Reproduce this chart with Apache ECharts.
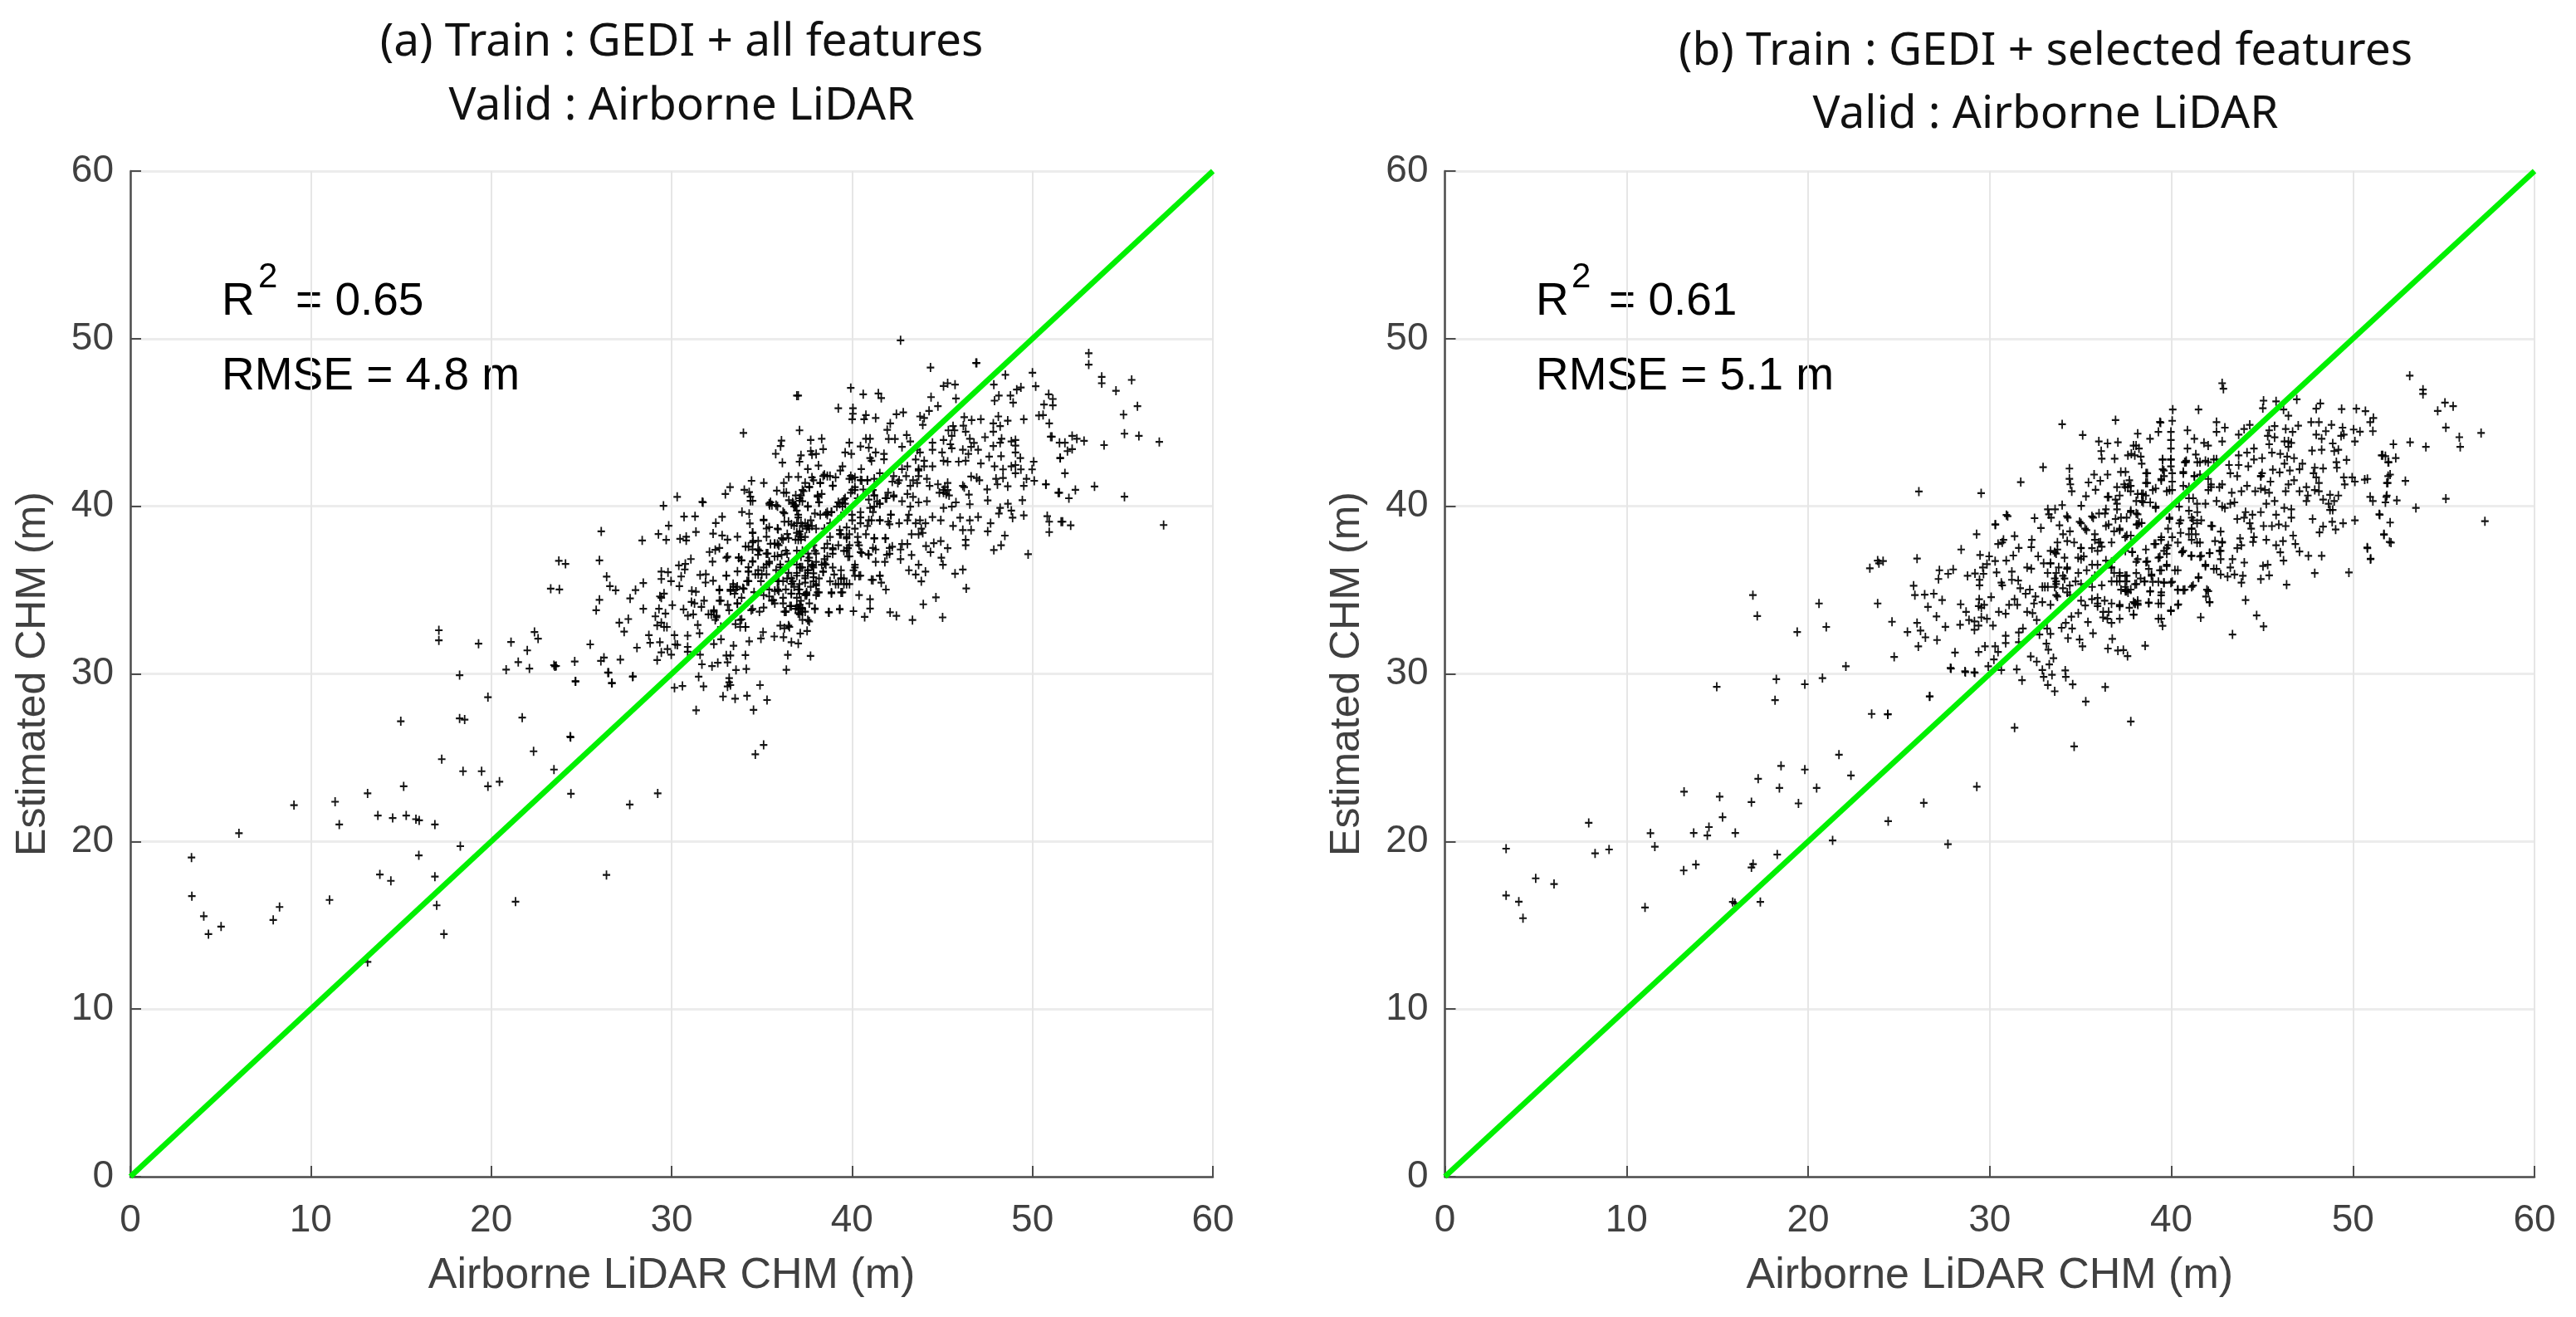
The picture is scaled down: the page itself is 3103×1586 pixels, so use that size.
<!DOCTYPE html>
<html><head><meta charset="utf-8">
<style>html,body{margin:0;background:#fff}#c{width:3103px;height:1586px}</style>
<script src="https://cdn.jsdelivr.net/npm/echarts@6/dist/echarts.min.js"></script>
</head><body><div id="c"></div>
<script>
const ticks=[0,10,20,30,40,50,60];
const oneToOne=[[0,0],[60,60]];
const pointsA=[
[3.39,19.04],[3.41,16.74],[4.07,15.54],[4.33,14.47],[5.03,14.92],[6.02,20.49],[7.92,15.32],[8.27,16.09],[9.07,22.17],[11.04,16.51],[11.35,22.37],[11.58,21.01],[13.15,22.87],[13.15,12.81],[13.72,21.55],[14.54,21.4],[15.29,21.55],[15.83,21.33],[16.01,21.26],[16.88,21.01],[13.83,18.03],[14.44,17.65],[14.99,27.17],[15.15,23.29],[15.99,19.17],[16.88,17.9],[16.98,16.19],[17.38,14.47],[17.26,24.91],[18.25,29.92],[18.25,27.34],[18.53,27.27],[18.44,24.19],[18.29,19.72],[19.47,24.19],[19.82,28.61],[19.82,23.29],[20.46,23.57],[20.83,30.25],[21.72,27.39],[21.35,16.41],[22.12,30.32],[22.35,25.38],[23.48,24.29],[24.4,26.22],[24.42,22.85],[26.39,18],[27.68,22.2],[29.23,22.87],[24.68,29.55],[23.53,30.45],[26.51,30.07],[26.68,29.45],[27.84,29.83],[17.1,32.6],[17.1,32],[19.3,31.8],[21.1,31.9],[22.4,32.5],[22.6,32.1],[22,31.4],[21.5,30.7],
[29.55,40.03],[30.69,39.38],[31.3,39.4],[31.7,40.26],[33.9,39.66],[34.3,39.55],[32.8,39.37],[32.45,39],[29.84,38.84],[29.27,38.34],[29.7,38],[28.37,37.96],[26.1,38.5],[23.75,36.74],[24.12,36.56],[26,36.77],[26.4,35.8],[26.58,35.23],[26.9,34.99],[23.3,35.08],[23.78,35.04],[28.43,35.42],[28,35],[27.7,34.5],[26,34.42],[25.82,33.8],[28.43,33.88],[27.1,33.05],[27.6,33.27],[27.37,32.52],[25.49,31.76],[28.08,31.56],[24.63,30.74],[23.48,30.52],[23.6,30.47],[26.08,30.77],[26.25,30.97],[27.16,30.85],[26.47,30.08],[24.67,29.56],[26.7,29.45],[27.86,29.85],[24.38,26.26],[35.1,25.76],[34.64,25.2],[31.36,27.83],[34.54,27.85],[32.85,28.65],[33.52,28.52],[34.18,28.69],[35.29,28.44],[34.9,29.33],[33.19,29.5],[33.1,29.25],[33.26,29.33],[33.19,29.75],[31.77,29.25],[31.5,29.83],[30.16,29.17],[30.6,29.28],[33.57,30.23],[34.14,30.29],[36.36,30.24],[31.68,30.57],[32.24,30.46],[32.56,30.66],[33.1,30.69],[33.03,31.1],[33.26,31.1],[34.09,31.12],[36.44,31.13],[37.7,31.07],[31.58,31.15],[30.89,31.32],[30.89,31.61],[29.98,31.15],[29.77,31.48],[29.43,31.28],[29.2,30.82],[28.74,32.31],[28.81,31.85],[29.35,31.89],[30.32,31.73],[30.2,31.76],[30.16,32.31],[30.89,32.28],[31.55,32.42],[31.45,32.92],[32.34,31.78],[32.74,32.06],[33.43,31.68],[34.3,31.94],[34.95,32.11],[35.07,32.49],[35.69,32.23],[36.2,32.19],[36.64,31.89],[37.02,31.81],[37.51,32.56],[37.13,32.41],[36.53,32.8],[36.25,32.72],[34.1,32.8],[33.8,32.8],[33.54,32.97],[33.88,33.25],[32.73,32.8],[32.42,33.22],[32.5,33.46],[32.2,33.55],[32.34,33.8],[32.04,33.55],[31.2,33.55],[30.9,33.47],[30.66,33.85],[29.3,33.88],[29.66,33.6],[29.1,33.43],[30.04,34.1],[29.43,33.05],[29.2,32.89],[29.58,32.8],[29.74,32.8],[29.35,34.62],[29.58,34.79],[29.43,34.54],[30.43,35.23],[29.97,35.53],[29.43,35.66],[29.43,36.1],[29.8,36.06],[30.53,35.81],[30.4,36.47],[30.76,36.56],[30.73,36.23],[31.07,36.85],[30.81,38.18],[30.47,38.06],[30.81,37.96],[31.35,38.47],[31.12,34.95],[31.35,34.9],[31.1,34.29],[31.58,35.9],[31.9,35.94],[32.3,35.56],[31.88,35.45],[32.1,37.27],[32.42,37.4],[32.65,37.51],[32.27,36.69],[33.1,36.99],[32.3,38.37],[32.8,38.26],[33.1,38.01],[33.65,38.18],[33.03,35.86],[32.65,34.99],[31.8,34.37],[31.27,34.21],[31.65,33.99],[33.42,35.2],[33.57,35.04],[33.26,34.95],[34,35.07],[33.65,34.21],[33.19,33.8],[32.73,34.37],[34.49,38.42],[34.52,37.93],[35.1,39.2],[34.34,38.97],[35.26,38.67],[35.87,38.67],[34.8,37.93],[34.87,37.35],[33.72,36.94],[34.49,36.69],[33.88,36.77],[35.33,37.18],[35.41,40.16],[35.87,40],[36.18,39.66],[36.87,40],[37.02,39.33],[37.56,40],[34.49,40.32],[36.5,40.36],[37.1,40.33],[36.25,39.08],[36.64,38.92],[37.1,38.5],[37.56,38.84],[36.87,38.01],[36.18,38.01],[35.72,37.76],[36.33,37.35],[35.41,36.69],[35.87,37.02],[36.48,36.69],[36.94,36.52],[37.56,36.19],[34.26,36.11],[33.65,36.11],[34.8,35.94],[35.26,35.94],[34.26,35.53],[35.87,35.53],[36.64,35.7],[36.33,35.04],[35.72,34.95],[35.1,34.7],[35.56,34.37],[36.18,34.21],[36.64,34.79],[37.1,34.13],[37.48,34.7],[37.02,33.88],[36.33,33.71],[35.1,33.96],[34.41,33.8],[37.25,33.22],[37.63,33.13],
[33.88,34.54],[34.18,35.53],[34.57,34.87],[34.95,35.53],[35.41,35.04],[35.87,35.04],[36.18,35.53],[36.64,35.37],[37.02,35.04],[37.4,35.7],[37.71,35.2],[37.17,36.36],[36.94,35.86],[36.48,36.03],[36.02,36.36],[35.26,36.52],[34.8,36.19],[34.26,36.36],[36.94,34.54],[36.56,34.04],[37.4,33.71],[37.1,33.55],[36.87,33.88],[37.63,34.21],[36.25,33.71],[35.41,34.62],[35.72,34.21],[36.18,34.54],[37.56,37.18],[37.79,36.52],[36.94,37.35],[36.79,38.84],[37.17,38.01],[36.41,38.34],[35.87,37.76],[35.26,38.18],[34.49,37.43],[34.1,37.6],
[44.35,48.28],[46.91,48.55],[48.5,47.84],[50,47.97],[50.18,47.16],[50.9,46.68],[51.13,46.4],[50.64,46.07],[51.13,46.02],[50.36,45.41],[50.59,45.44],[50.93,44.94],[51.08,44.15],[51.5,43.79],[51.54,42.88],[50.74,41.31],[51.43,40.81],[50.82,39.41],[50.93,39.08],[51.59,39.08],[50.93,38.46],[49.52,39.46],[48.83,39.74],[48.9,39.32],[48.21,39.9],[48.14,39.57],[47.68,38.99],[47.52,38.5],[48.47,38.25],[48.26,37.67],[47.86,37.39],[49.76,37.14],[49.44,40.36],[48.64,40.15],[47.52,40.35],[47.49,41.01],[46.53,40.12],[46.48,40.7],[48.63,41.19],[49.52,41.22],[50.1,41.52],[49.67,41.64],[49.98,42.2],[50.07,42.66],[49.36,42.2],[49.06,41.97],[48.37,41.69],[47.98,41.64],[48.06,41.31],[48.37,42.2],[47.9,42.38],[49.06,42.46],[48.83,42.38],[49.33,42.88],[48.26,42.99],[47.6,42.96],[47.14,42.55],[49.06,43.95],[48.83,43.87],[49.06,43.62],[49.06,43.21],[48.29,44.03],[48.21,43.79],[47.83,43.59],[47.37,44.12],[46.99,43.37],[47.83,44.45],[48.21,44.78],[47.83,44.94],[48.11,45.36],[48.63,45.11],[49.52,45.19],[47.14,45.19],[46.63,45.14],[46.22,45.32],[46.17,44.81],[45.6,44.78],[45.34,44.53],[45.68,44.53],[45.53,44.2],[46.3,44.45],[46.53,44.03],[46.76,43.78],[46.6,43.54],[45.45,43.7],[45.53,43.46],[45.76,46.43],[45.07,47.17],[45.3,47.34],[45.71,47.26],[44.76,45.97],[44.38,46.51],[44.27,45.69],[43.77,45.36],[44,45.27],[43.92,44.86],[47.86,47.26],[48.14,46.6],[47.9,46.3],[48.78,46.6],[48.93,46.18],[49.13,46.96],[49.36,47.09],[39.93,47.06],[40.62,46.68],[41.46,46.73],[41.62,46.46],[39.24,45.85],[40.05,45.85],[40.05,45.52],[40.01,45.19],[40.77,45.44],[40.67,45.19],[41.31,45.27],[42.46,45.49],[42.84,45.6],[42.12,44.94],[41.95,44.56],[43.03,44.25],[42.03,44.02],[42.38,44.02],[37.09,44.53],[37.02,46.6],[37.71,43.95],[38.32,44.03],[39.85,43.79],[40.47,43.57],[40.93,43.5],[40.77,44.03],[41,44.03],[38.4,43.41],[37.71,43.29],[38.01,43.12],[37.78,43.09],[37.17,43.04],[37.09,42.66],[37.55,42.22],[38.14,42.43],[39.62,43.21],[39.96,43.12],[39.35,42.13],[39.47,42.38],[40.51,42.22],[41,42.88],[41.31,43.21],[41.08,42.71],[41.77,43.12],[41.77,42.8],[42.77,43.54],[43.23,43.87],[43.61,43.37],[43.77,43.21],[44.46,43.79],[44.46,43.37],[43.53,42.79],[44,42.71],[43.69,42.22],[44,42.38],[44.46,42.38],[43.07,42.38],[42.77,42.22],[45.07,43.95],[44.99,43.21],[45.07,42.71],[45.3,42.66],[45.91,42.66],[46.3,42.71],[46.45,43.12],[46.14,43.37],[46.6,41.77],[46.91,41.69],[47.06,41.55],[46.14,41.22],[46.22,41.14],[44.15,41.64],[44.3,41.22],[44.76,41.31],[45.3,41.39],[43.61,41.39],[43.23,41.22],[42.54,41.39],[42.23,41.47],[44.84,40.81],[45.07,40.97],[45.22,40.73],[45.76,40.23],[45.53,39.98],[45.07,39.9],[44.15,40.3],[43.07,40.73],[43.38,40.56],[43.69,40.23],[42.31,40.65],[41.92,40.48],[41.23,40.65],[41,39.9],[41.54,40.15],[40.31,40.48],[39.93,40.81],[40.01,41.64],[40.54,41.55],[40.85,41.55],[38.78,41.8],[38.47,41.88],[38.24,41.39],[37.78,41.72],[39.09,41.72],[38.93,41.22],[38.32,40.73],[37.25,40.97],[37.63,41.14],[38.17,40.23],[37.55,39.98],[37.09,40.48],[37.94,39.57],[39.32,40.15],[39.62,40.48],[38.55,39.57],[38.86,39.65],[44.46,39.36],[44.92,39.16],[45.6,38.83],[46.14,38.58],[46.6,38.58],[46.53,39.16],[46.99,39.36],[45.99,39.32],[43.92,38.41],[43.69,38.33],[43.3,38.33],[44.07,38.99],[43.77,39.16],[43.15,39.49],[42.15,39.49],[42,39.08],[41.08,39.16],[41.54,39.16],[40.47,38.99],[40.85,38.83],[39.7,38.74],[38.78,38.17],[39.32,38.58],[37.55,38.83],[38.01,38.66],[37.09,38.33],[39.7,38.08],[41.23,38.08],[41.85,38.08],[40.39,37.67],[40.54,37.21],[40.9,37.14],[41.31,37.42],[42.23,37.59],[42.77,37.75],[43.07,37.75],[42.69,37.42],[44.1,37.62],[44.53,37.8],[44.92,37.92],[45.3,37.5],[44.35,37.26],[44.95,36.93],[45.04,36.51],[46.3,38],[46.3,37.67],[43.3,37.09],[42.69,36.84],[42.08,37.17],[41.82,36.68],[41.31,36.68],[39.7,37.34],[39.78,37],[38.93,37.5],[38.47,37.5],[38.63,37],[37.94,37.34],[38.01,36.68],[37.25,37.34],[37.86,36.35],[38.47,36.6],[38.4,36.1],[37.55,36.18],[40.08,36.18],[40.16,36.51],[39.39,36.18],[39.01,35.93],[40.39,35.85],[39.55,35.69],[38.78,35.52],[41.16,35.6],[41.54,35.85],[41.62,35.44],[41.88,35.03],[43.15,36.18],[43.53,35.93],[43.69,36.51],[44.07,36.1],[43.84,35.52],[45.71,35.98],[46.14,36.22],[46.33,35.1],[44.65,34.56],[43.95,34.15],[45.02,33.37],[43.35,33.21],[42.46,33.46],[42.11,33.67],[41,34.45],[41,33.9],[40.7,33.4],[40.08,33.74],[39.32,33.84],[38.73,33.67],[37.94,33.9],[37.55,33.21],[40.39,34.7],[39.39,34.86],[38.86,34.81],[38.09,34.86],[37.4,34.7],[37.09,35.03],[37.17,33.95],[37.86,35.52],[38.01,35.27],
[37.17,38.99],[37.48,38.66],[37.78,38.83],[37.02,38],[37.4,38.17],[37.86,37.67],[37.17,37],[37.55,36.76],[37.09,36.35],[37.4,35.85],[37.86,36],[38.17,35.69],[37.09,35.36],[37.48,34.86],[38.01,34.7],[37.17,34.36],[37.02,33.62],[37.25,33.87],[38.47,38.66],[38.78,38.99],[39.39,38.33],[39.85,38.33],[40.16,38.66],[40.77,38.33],[39.24,37.67],[39.78,37.5],[38.93,37.17],[38.32,36.51],[38.93,36.35],[39.39,35.69],[39.7,35.36],[39.24,35.36],[40.16,35.85],[39.39,39.41],[40,39.49],[40.47,39.65],[41.23,39.98],[41.39,40.3],[41.16,40.97],[42,40.81],[42.77,40.3],[43.23,39.98],[43.07,39.16],[42.61,38.99],[43.84,38.66],[43.53,38.99],[39.62,40.15],[39.16,39.98],[39.47,40.23],[38.63,39.65],[38.24,39.49],[37.71,39.16],[37.4,38.99],[38.09,40.65],[37.25,40.3],[37.02,39.49],[37.4,41.39],[37.86,41.55],[38.4,41.8],[39.85,41.64],[40.16,41.14],[40.16,40.97],[40.62,41],[41.23,41.64],[41.54,41.97],[42.31,41.8],[42.61,41.55],[43,41.8],[43.38,41.55],[43.69,42.13],[43.69,41.8],[45.07,40.81],[45.38,40.65],[45.15,41.14],[45.3,40.97],
[42.69,49.9],[46.87,48.55],[53.12,49.13],[53.12,48.45],[53.84,47.72],[53.84,47.34],[55.5,47.54],[54.63,46.89],[55.82,45.97],[55.05,45.47],[55.1,44.33],[55.9,44.2],[57.03,43.84],[53.97,43.65],[52.86,43.9],[52.46,44.03],[52.2,44.2],[51.8,43.79],[51.94,43.29],[52.2,43.41],[51.54,42.88],[51.01,44.15],[51.8,41.97],[53.44,41.18],[52.38,40.98],[51.49,40.81],[52.02,40.48],[55.1,40.57],[57.27,38.88],[50.75,41.31],[51.67,39.08],[52.12,38.86],
[30.31,40.56],[31.74,40.23],[33.98,44.37],[36.94,46.6],[36.09,43.92],[36.04,43.59],[35.77,43.13],[36.14,42.6],[34.43,41.52],[35.11,41.39],[34.03,40.98],[32.98,40.73],[33.24,41.14],[34.37,40.57],[34.3,40.84],[36.49,41.75],[37.02,41.75],[36.22,41.39],[35.83,40.93],[36.36,40.81],[35.56,40.07],[34.37,40.32],[35.43,40.07],[36.75,40.15],[36.22,40.81],[36.88,40.65],
[36.86,40.07],[36.94,39.74],[36.71,40.24],[35.79,40.07],[35.48,40.24],[36.25,39.58],[36.48,39.08],[36.94,39],[37.25,38.83],[37.63,38.67],[36.94,38.42],[37.17,38.17],[36.48,38.09],[36.1,38.09],[35.71,37.76],[35.94,37.67],[35.48,37.76],[35.1,39.16],[35.41,38.75],[35.9,38.63],[34.49,38.42],[34.49,37.84],[34.26,37.59],[34.79,37.43],[35.25,37.18],[35.71,37.01],[36.1,37.1],[36.4,37.18],[34.79,37.1],[33.72,36.93],[33.87,36.77],[33.03,36.93],[34.49,36.72],[35.1,36.35],[34.26,36.1],[35.41,36.6],[36.02,36.52],[35.79,36.19],[34.64,35.94],[35,35.94],[33.41,35.36],[33.26,35.03],[33.64,35.2],[33.49,34.78],[33.95,35.11],[34.26,35.53],[33.03,35.86],[32.65,35.03],[32.65,34.37],[33.11,34.12],[33.64,34.2],[32.34,33.71],[32.49,33.38],[34.1,32.8],[33.8,33.21],[34.87,33.71],[34.49,33.87],[35.94,35.53],[35.94,34.95],[35.64,34.4],[36.71,35.53],[36.4,35.69],[36.79,35.2],[36.63,34.78],[37.09,34.78],[37.48,34.78],[37.4,35.44],[38.01,35.36],[38.17,34.86],[37.86,35.77],[37.55,36.02],[36.94,36.02],[37.25,36.35],[37.78,36.43],[37.63,36.93],[38.01,37.18],[38.47,36.85],[38.55,36.52],[38.4,36.1],[38.94,37.43],[38.63,37.76],[39.32,38.34],[39.86,37.67],[39.55,37.34],[39.86,37.01],[40.47,37.26],[40.93,37.1],[41.16,37.51],[39.7,38.17],[40.32,38.17],[40.32,37.84],[41.24,38.09],[41.85,38.09],[42.08,37.51],[41.93,37.1],[40.01,39.16],[40.47,39.33],[40.93,39.16],[41.54,39.16],[42.08,38.92],[42.16,39.49],[41.16,39.66],[41.54,40.15],[41.24,40.65],[41.85,40.48],[42.31,40.57],[40.93,40.4],[40.16,41.72],[40.47,41.56],[40.85,41.56],[39.93,41.81],[40.01,40.98],[39.55,40.4],[39.24,40.24],[39.47,39.99],[38.63,39.49],[38.86,39.66],[38.17,40.24],[38.09,40.57],[37.63,41.15],[37.32,40.9],[37.17,40.65],[36.79,39.99],[38.63,41.81],[38.94,41.23],[38.24,41.39],[39.4,35.69],[39.09,35.36],[39.55,35.36],[39.86,35.36],[39.47,34.86],[38.86,34.86],[40.16,36.35],[40.47,35.86],[41.54,35.86],[41.08,35.61],[39.32,33.87],[38.7,33.68],[36.94,34.04],[37.25,33.71],[36.63,34.04],[36.33,33.71],[37.94,33.87],[36.48,32.88],[36.02,32.88]
];
const pointsB=[
[3.37,19.57],[3.37,16.78],[4.07,16.41],[4.3,15.42],[5,17.8],[6.01,17.46],[7.92,21.11],[8.27,19.29],[9.04,19.52],[11.02,16.06],[11.32,20.49],[11.56,19.69],[13.17,22.97],[13.15,18.27],[13.82,18.62],[13.7,20.51],[14.45,20.36],[14.54,20.86],[15.29,21.45],[15.13,22.67],[15.99,20.51],[15.85,16.39],[15.97,16.31],[14.97,29.23],[16.88,22.35],[17.25,23.74],[16.97,18.65],[16.88,18.45],[17.37,16.39],[18.3,19.22],[18.25,29.68],[18.18,28.43],[18.42,23.19],[18.51,24.51],[19.47,22.27],[19.82,29.38],[19.82,24.29],[20.47,23.19],[20.79,29.75],[21.35,20.06],[21.7,25.18],[22.08,30.45],[22.36,23.94],[23.5,27.61],[24.39,27.59],[24.41,21.21],[26.37,22.3],[26.7,28.66],[27.7,19.84],[29.29,23.27],[27.87,30.32],[28.64,30.15],[29.15,30.1],[16.96,34.7],[17.2,33.45],[19.4,32.5],[20.6,34.2],[21,32.8],[23.4,36.3],[23.9,36.6],
[26.1,40.88],[29.53,40.78],[31.71,41.44],[32.94,42.33],[34.39,42.25],[34.39,41.64],[34.44,41.31],[34.52,40.89],[33.99,44.89],[35.12,44.25],[36.93,45.14],[36.01,43.87],[36.49,43.75],[37.06,43.82],[36.14,43.29],[36.17,42.84],[36.88,42.84],[35.75,41.89],[36.49,41.89],[36.09,41.52],[35.44,41.42],[35.83,40.98],[35.3,40.6],[37.22,42.05],[37.48,42.05],[33.2,39.82],[33.6,39.82],[33.99,40.07],[35.04,40.03],[33.26,39.52],[34.25,39.41],[30.92,39.48],[30.32,38.91],[36.49,40.56],[37.01,41.14],[37.4,41.31],[37.01,40.15],[35.7,39.32],[36.35,39.57],[37.01,39.82],[37.8,43.13],[38.06,43.62],[38.32,42.96],[39.37,45.03],
[30.3,38.91],[30.99,39.41],[32.47,39.29],[33.38,39.32],[34.3,39.32],[32.82,38.7],[33.84,38.86],[29.28,38.33],[28.43,37.42],[26,36.88],[23.83,36.76],[24.13,36.73],[31.37,38.22],[30.76,38],[30.46,37.75],[30.69,37.84],[32.32,38],[32.29,37.56],[31.6,37.51],[31.3,37.06],[30.91,36.76],[30.3,36.73],[29.47,37.09],[29.97,37.01],[29.85,36.55],[29.62,36.35],[27.99,36.23],[27.23,36.18],[27.71,35.97],[27.18,35.66],[28.78,35.85],[29.19,35.99],[29.66,35.97],[29.44,35.61],[29.44,35.28],[30.38,36.05],[31.22,36.1],[31.22,35.61],[31.57,35.57],[30.64,35.44],[30.69,35.28],[25.81,35.26],[25.88,34.7],[26.42,34.73],[26.92,34.78],[27.38,34.4],[26.6,33.99],[27.07,33.42],[23.83,34.2],[24.62,33.11],[26,33.04],[26.19,32.58],[25.47,32.5],[26.46,32.18],[27.1,32.02],[26.07,31.64],[27.56,32.81],[28.37,32.93],[28.4,34.15],[28.7,33.7],[29.42,34.45],[29.39,34.04],[29.7,34.12],[30.08,34.58],[29.54,33.95],[29.54,33.37],[29.85,33.29],[28.86,33.21],[29.16,33.13],[29.39,32.88],[29.16,32.63],[30.18,32.88],[30.5,33.7],[30.88,33.59],[24.74,31.01],[28.09,31.27],[29.39,31.31],[29.74,31.64],[30.3,31.64],[30.46,31.31],[30.23,30.86],[29.92,30.45],[27.84,30.35],[28.66,30.1],[29.18,30.07],[30.64,30.23],[31.49,30.27],[31.78,29.62],[26.69,28.65],[24.39,27.59],[31.37,26.79],[35.29,28.35],[34.65,25.67],[37.77,27.16],[36.36,29.21],[34.57,29.37],[33.58,28.96],[33.2,29.34],[32.97,29.82],[32.9,30.23],[33.43,29.94],[33.28,30.56],[34.19,29.82],[34.16,30.2],[33.51,30.94],[32.59,30.73],[32.26,31.03],[33.23,31.44],[33.12,31.8],[35.11,31.64],[34.95,32.05],[34.31,32.13],[30.88,32.27],[30.88,31.84],[31.6,31.89],[31.6,32.47],[31.83,32.71],[32.74,32.35],[33.16,32.71],[33.35,32.38],[33.96,32.75],[34.54,32.71],[35.69,32.42],[36.75,32.09],[36.51,31.51],[37.06,31.39],[37.36,31.42],[37.59,31.06],[35.41,33.09],[34.88,33.62],[35.26,34.08],[34.5,33.41],[34.19,33.04],[35.94,34.53],[35.94,34.04],[36.33,34.37],[36.71,34.2],[37.16,34.12],[37.16,33.29],[36.48,33.29],[36.25,33.7],[36.71,33.04],[38,34.2],[38.16,34.12],[37.93,33.54],[32.36,33.62],[32.06,33.7],[32.59,33.21],[32.44,34.2],[32.52,34.61],[32.21,35.03],[31.68,35.11],[31.98,34.78],[31.37,34.45],[31.52,34.12],[31.07,34.12],[33.35,34.12],[32.9,34.28],[33.2,35.19],[33.66,35.36],[32.9,35.19],[33.66,34.7],[34.27,34.86],[33.66,36.02],[33.35,36.6],[33.66,37.18],[33.35,37.34],[32.67,37.01],[32.29,36.27],[32.06,36.35],[32.97,36.6],[34.12,36.93],[35.03,37.51],[35.03,36.85],[34.65,37.84],[34.27,37.92],[33.73,37.84],[34.42,38.5],[34.04,38.33],[35.33,38.58],[35.03,38.99],[35.79,38.33],[36.4,38.83],[36.1,37.84],[36.71,37.84],[37.16,38.66],[37.55,38.25],[38.08,38.91],[35.64,36.51],[35.94,36.51],[35.34,36.18],[34.88,36.02],[34.27,36.35],[34.12,35.69],[33.66,35.52],[34.73,35.52],[35.79,35.85],[36.4,36.76],[36.71,36.35],[37.16,36.02],[37.55,35.85],[37.16,35.52],[37.77,35.03],[37.47,34.94],[36.71,35.52],[36.17,35.28],[35.64,35.19],[35.03,35.36],[34.42,34.7],[35.03,34.37],[37.47,37.34],[37.85,37.26],[36.71,36.68],[38.08,35.36],[38.31,35.69],
[42.87,47.01],[42.8,47.34],[45.08,46.3],[45.04,45.85],[45.77,46.26],[46.18,45.77],[46.91,46.38],[46.45,45.4],[48.21,46.13],[47.98,45.82],[49.38,45.8],[50.19,45.82],[50.69,45.68],[51.13,45.27],[50.95,45.02],[51.1,44.48],[47.7,45.02],[48.13,45.02],[48.82,44.86],[48.51,44.48],[47.98,44.28],[48.28,44.03],[49.43,44.69],[49.35,44.2],[49.5,44.28],[50.04,44.58],[50.39,44.45],[50.11,43.87],[48.89,43.75],[49.2,43.37],[48.97,43.29],[47.75,43.32],[48.28,43.37],[49.09,42.63],[49.12,42.3],[49.65,42.76],[48.36,42.26],[47.9,42.3],[47.83,41.97],[47.98,41.72],[48.13,41.39],[47.22,42.54],[47.06,42.21],[46.53,42.13],[45.59,42.18],[45.97,42.02],[44.93,41.8],[45,41.97],[46.76,41.55],[46.45,41.3],[46.3,40.89],[45.46,41.47],[45.16,40.97],[44.93,41.06],[45.39,40.81],[44.62,40.89],[47.06,40.89],[47.44,41.14],[47.52,40.64],[47.44,40.31],[48.13,40.89],[47.9,40.97],[48.36,40.4],[48.74,40.68],[49.2,40.64],[48.97,40.31],[48.66,40.15],[49.5,41.72],[49.55,41.3],[49.96,41.72],[50.11,41.47],[50.65,41.59],[50.8,41.63],[51.64,43.04],[51.79,42.99],[51.94,42.63],[51.87,41.39],[51.94,41.8],[50.95,40.56],[51.1,40.31],[51.79,40.23],[51.87,40.64],[51.48,39.49],[51.71,38.33],[52.02,37.87],[50.8,37.5],[50.98,36.87],[50.11,39.16],[49.46,38.99],[49.05,38.61],[48.86,39.07],[48.74,39.78],[48.89,39.78],[47.78,39.24],[48.36,38.79],[48.16,38.44],[48.28,37.04],[47.9,36.01],[49.78,36.05],[47.55,37.04],[47.06,37.3],[46.83,37.75],[46.71,38.25],[46.35,35.32],[46.18,36.76],[45.31,36.51],[45.05,36.43],[45.39,35.88],[44.93,35.65],[44.7,33.49],[45.08,32.83],[43.37,32.35],[44.09,34.4],[41.62,33.37],[39.52,32.87],[38.56,31.68],[42.11,34.28],[41.91,34.61],[41.96,35.02],[40.39,34.15],[39.98,33.75],[39.29,33.29],[39.44,34.2],[39.44,34.69],[38.83,34.91],[38.76,34.25],[38,34.2],[37.92,33.54],[37.69,33.95],[38.15,34.36],[40.36,35.02],[40.66,35],[41.12,35.19],[41.5,35.73],[43.94,35.85],[43.86,35.44],[43.48,35.93],[43.1,35.8],[42.72,35.93],[42.34,36.26],[41.88,36.51],[43.25,36.35],[43.37,36.84],[44.02,36.64],[43.63,37.5],[43.86,37.67],[42.72,37.34],[42.72,36.84],[41.65,37.04],[42.11,37.2],[41.09,37.04],[40.59,37.25],[39.75,37.17],[39.37,36.97],[38.68,36.71],[38.07,36.68],[40.2,36.18],[39.75,36.51],[39.37,36.18],[38.91,35.93],[38.07,36.01],[38.53,35.52],[37.54,35.52],[40.05,35.49],[39.59,35.44],[39.29,35.49],[38.98,35.49],[37.54,34.94],
[42.8,37.87],[42.41,37.92],[42.72,38.49],[42.26,38.82],[41.12,38.66],[41.42,38.99],[41.12,39.32],[40.51,39.16],[41.12,38],[41.42,37.83],[39.75,37.5],[39.44,38],[39.06,37.75],[38.6,37.42],[40.51,38.41],[39.9,39.32],[39.82,38.66],[44.01,39.32],[44.4,38.66],[44.32,38.99],[43.79,38.08],[44.55,38.16],[45.23,38],[45.77,37.67],[46.15,37.92],[46,37.25],[44.5,37.87],[45.08,38.82],[45.92,38.91],[46.3,38.82],[45.54,38.82],[45.77,39.49],[46.22,39.9],[46.61,39.82],[46.61,39.32],[45.69,40.31],[45.23,40.15],[44.93,39.65],[44.47,39.49],[44.09,39.65],[43.63,39.24],[43.25,40.15],[43.48,40.23],[42.95,39.9],[42.49,40.31],[41.88,40.15],[41.42,40.15],[40.97,40.48],[40.43,39.98],[42.19,41.14],[42.8,41.3],[43.33,40.81],[43.86,40.89],[44.17,41.22],[43.25,41.97],[43.63,41.8],[43.71,42.46],[43.18,42.46],[44.24,42.38],[44.93,41.8],[42.03,41.63],[41.58,41.88],[41.27,41.8],[40.97,41.14],[40.66,41.22],[40.05,41.47],[40.05,40.97],[39.75,40.89],[39.44,41.63],[39.59,42.13],[40.05,41.97],[40.66,42.05],[41.58,42.63],[42.03,42.63],[42.49,42.79],[40.89,43.45],[40.74,42.63],[40.08,45.77],[41.5,45.77],[40.05,45.1],[39.41,44.99],[39.29,44.44],[38.15,44.33],[38.83,44.03],[39.98,44.44],[39.98,43.95],[39.98,43.45],[39.52,42.79],[39.98,42.79],[39.98,42.38],[40.89,44.53],[42.49,45.02],[42.49,44.44],[42.95,44.69],[41.27,44.03],[41.8,43.78],[42.03,43.62],[42.8,43.87],[41.35,43.09],[40.81,42.63],[43.71,44.28],[44.01,44.61],[44.32,44.86],[45.39,44.53],[45.69,44.78],[45.31,44.2],[45.69,44.11],[46.3,44.61],[46.68,44.44],[46.99,44.81],[46.45,43.87],[46.23,43.87],[46.61,43.78],[46.45,43.54],[45.39,43.7],[44.55,43.45],[44.17,43.2],[43.71,43.04],[44.55,42.79],[45,42.87],[45.54,43.2],[46,43.12],[46.38,42.96],[46.76,42.87],[46.23,42.54],[38.22,43.45],[37.92,43.62],[37.61,43.04],[37.99,43.04],[38.37,42.54],[38.68,41.97],[37.69,41.55],[38.6,41.39],[37.61,41.14],[38.37,40.73],[38.6,40.64],[38.07,40.31],[38.45,40.23],[38.98,40.97],[37.76,40.89],[37.76,39.65],[38.15,39.52],[38.15,38.91],[37.54,39.32],[39.14,39.9],[38.37,39],
[53.13,47.79],[53.86,46.96],[53.86,46.7],[55.07,46.18],[55.52,45.97],[54.67,45.69],[55.12,44.7],[55.86,44.12],[55.91,43.54],[57.06,44.37],[57.27,39.11],[55.12,40.45],[53.47,39.9],[53.15,43.82],[54.02,43.54],[52.23,43.7],[52.05,41.89],[52.89,41.51],[51.92,41.39],[51.84,40.56],[52.42,40.35],[51.45,39.52],[52.05,39.03],[51.71,38.3],[52.1,37.83],[50.79,37.54],[50.97,36.84],[51.58,43.04],[51.97,42.63],[52.36,42.88],
[36.01,37.83],[35.79,38],[36.17,37.59],[35.63,37.5],[35.94,37.34],[35.02,37.5],[34.87,36.93],[35.18,37],[33.58,37.26],[33.73,37.42],[33.35,36.6],[33.8,36.35],[34.26,36.26],[33.19,36.02],[33.58,35.69],[34.03,35.85],[34.41,35.27],[33.58,35.19],[34.03,35.11],[33.73,34.61],[33.04,35.19],[36.85,36.02],[37.16,35.85],[37.46,35.85],[37,35.52],[37.46,35.19],[37.23,35.02],[37.62,34.86],[36.7,36.35],[38,35.35],[38.15,34.2],[37.92,34.28],[37.16,34.03],[36.55,33.7],[36.24,33.37],[35.94,34.2],[35.63,34.45],[37.46,38.16],[37.77,38.25],[37.16,38.58],[36.85,38.5],[37.23,39.32],[36.93,39.24],[36.55,38.91],[38.23,39],[38.07,39.57],[37.77,39.73],[36.93,40.4],[37.16,40.64],[37.46,41.14],[37.77,41.22],[36.55,40.56],[35.63,39.4],[36.02,39.57],[36.4,39.82],[34.95,39.07],[35.25,38.66],[37.85,37.26],[38.15,36.84],[38.61,36.68],[38.76,36.26],[39.29,36.93],[39.6,37.34],[39.83,37.67],[39.45,38.16],[39.14,37.75],[40.05,38.16],[40.36,37.83],[40.66,37.34],[39.9,39.24],[40.44,38.99],[41.12,38.66],[41.35,38.33],[41.58,37.83],[40.97,38.33],[41.2,39.16],[41.65,39.16],[40.97,39.73],[41.43,39.65],[41.2,40.48],[42.04,40.97],[42.19,41.3],[42.65,41.14],[42.8,39.98],[42.19,38.83],[42.8,37.83],[42.65,37.34],[42.11,37.21],[41.58,37],[41.12,37.04],[40.59,37.26],[39.75,36.43],[40.36,36.18],[39.45,36.18],[38.91,35.85],[38.53,35.52],[39.6,35.44],[39.98,35.44],[39.45,34.86],[40.36,35.02],[40.74,35.02],[41.2,35.27],[41.5,35.77],[41.88,36.43],[42.49,36.26],[38.84,34.94],[39.29,34.2],[38.76,34.23],[39.98,33.78],[39.45,33.29],[40.36,34.12],[42.04,34.94],[42.11,34.28],[39.6,41.8],[39.9,40.97],[39.45,41.55],[40.66,41.97],[41.27,41.8],[40.82,42.71],[41.43,42.63],[41.88,42.71],[42.34,42.79],[39.98,42.79],[39.52,42.79],[38.61,41.97],[39.52,42.21],[38.68,41.39],[39.14,41.06],[38.15,40.73],[38.45,40.73],[38.38,40.31],[38.84,40.23],[39.14,39.98]
];
const titleLinesA=["(a) Train : GEDI + all features","Valid : Airborne LiDAR"];
const titleLinesB=["(b) Train : GEDI + selected features","Valid : Airborne LiDAR"];
const xName="Airborne LiDAR CHM (m)";
const yName="Estimated CHM (m)";
const statsA=["0.65","4.8"];
const statsB=["0.61","5.1"];

const plus='path://M4 0h2v4h4v2H6v4H4V6H0V4h4z';
const tickFont='"Liberation Sans", Arial, sans-serif';
function xAxis(i){return {gridIndex:i,type:'value',min:0,max:60,interval:10,
  name:xName,nameLocation:'middle',nameGap:94,nameTextStyle:{fontFamily:tickFont,fontSize:52,color:'#404040'},
  axisLine:{show:true,onZero:false,lineStyle:{color:'#4d4d4d',width:2.5}},
  axisTick:{show:true,inside:true,length:13,lineStyle:{color:'#4d4d4d',width:2}},
  axisLabel:{margin:30,fontFamily:tickFont,fontSize:46,color:'#404040',showMinLabel:true,showMaxLabel:true,hideOverlap:false},
  splitLine:{show:true,lineStyle:{color:'#e6e6e6',width:2}}};}
function yAxis(i){return {gridIndex:i,type:'value',min:0,max:60,interval:10,
  name:yName,nameLocation:'middle',nameGap:92,nameTextStyle:{fontFamily:tickFont,fontSize:50,color:'#404040'},
  axisLine:{show:true,onZero:false,lineStyle:{color:'#4d4d4d',width:2.5}},
  axisTick:{show:true,inside:true,length:13,lineStyle:{color:'#4d4d4d',width:2}},
  axisLabel:{margin:20,fontFamily:tickFont,fontSize:46,color:'#404040',showMinLabel:true,showMaxLabel:true,hideOverlap:false},
  splitLine:{show:true,lineStyle:{color:'#ececec',width:3}}};}
function scatter(i,d){return {type:'scatter',xAxisIndex:i,yAxisIndex:i,data:d,symbol:plus,symbolSize:[9,11],
  itemStyle:{color:'#000',opacity:0.92},silent:true,animation:false,z:3};}
function line(i){return {type:'line',xAxisIndex:i,yAxisIndex:i,data:oneToOne,showSymbol:false,symbol:'none',
  lineStyle:{color:'#00f000',width:6.5},silent:true,animation:false,z:4};}
function titleText(lines,cx,y1,y2,font,size){
  return lines.map((t,k)=>({type:'text',x:cx,y:k?y2:y1,
    style:{text:t,fontFamily:font,fontSize:size,fill:'#111',textAlign:'center',textVerticalAlign:'middle'}}));
}
function statText(s,x0,supX,eqX){
  const f=55, fam=tickFont;
  return [
   {type:'text',x:x0,y:364,style:{text:'R',fontFamily:fam,fontSize:f,fill:'#000',textVerticalAlign:'middle'}},
   {type:'text',x:supX,y:334,style:{text:'2',fontFamily:fam,fontSize:42,fill:'#000',textVerticalAlign:'middle'}},
   {type:'text',x:eqX,y:364,style:{text:'= '+s[0],fontFamily:fam,fontSize:f,fill:'#000',textVerticalAlign:'middle'}},
   {type:'text',x:x0,y:454,style:{text:'RMSE = '+s[1]+' m',fontFamily:fam,fontSize:f,fill:'#000',textVerticalAlign:'middle'}}
  ];
}
const chart=echarts.init(document.getElementById('c'),null,{renderer:'canvas'});
chart.setOption({
  animation:false,backgroundColor:'#fff',
  grid:[{left:157,top:206,width:1304,height:1211},{left:1740.5,top:206,width:1312.5,height:1211}],
  xAxis:[xAxis(0),xAxis(1)],yAxis:[yAxis(0),yAxis(1)],
  series:[scatter(0,pointsA),line(0),scatter(1,pointsB),line(1)],
  graphic:[].concat(
    titleText(titleLinesA,821,51,128,'"Noto Sans"',55),
    titleText(titleLinesB,2464,62,138,'"Noto Sans"',55),
    statText(statsA,267,311,356),
    statText(statsB,1850,1893,1938))
});
</script></body></html>
